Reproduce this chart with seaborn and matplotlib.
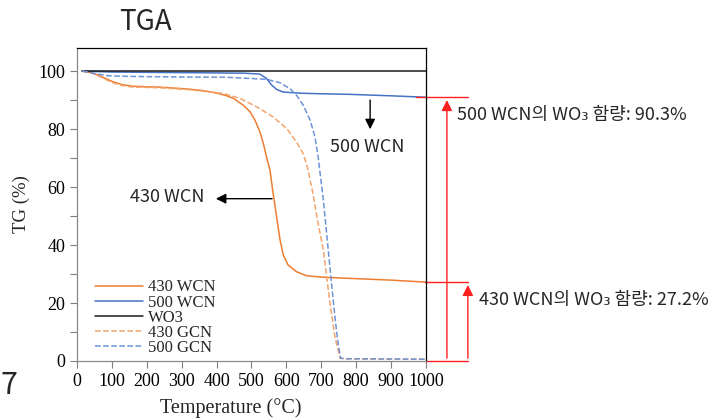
import numpy as np
import pandas as pd
import seaborn as sns
import matplotlib.pyplot as plt

# TGA curves

temp_430wcn = [15, 45, 74, 102, 131, 160, 200, 236, 312, 360, 398, 427, 448, 476, 496,
               510, 524, 534, 543, 553, 562, 572, 582, 591, 605, 629, 658, 706, 782,
               900, 1000]
tg_430wcn = [100, 99.4, 97.9, 96.4, 95.3, 94.8, 94.6, 94.5, 93.9, 93.3, 92.5, 91.6, 90.6,
             88.3, 86.0, 83.1, 79.1, 75.1, 70.4, 65.9, 57.8, 49.8, 41.7, 36.6, 33.1, 30.8,
             29.4, 28.9, 28.5, 27.9, 27.2]

temp_500wcn = [15, 100, 200, 300, 400, 480, 524, 543, 558, 572, 591, 639, 700, 782, 900,
               1000]
tg_500wcn = [100, 99.7, 99.6, 99.5, 99.4, 99.3, 99.0, 97.5, 95.2, 93.7, 92.8, 92.4, 92.2,
             92.0, 91.5, 91.0]

temp_wo3 = [15, 1000]
tg_wo3 = [100, 100]

temp_430gcn = [15, 45, 74, 102, 131, 160, 236, 312, 360, 419, 467, 515, 562, 601, 629,
               648, 660, 675, 690, 706, 715, 725, 739, 754, 770, 1000]
tg_430gcn = [100, 99.3, 97.6, 96.0, 95.0, 94.5, 94.3, 93.7, 93.1, 92.3, 90.6, 87.7, 84.2,
             80.2, 75.6, 71.6, 67.0, 58.5, 48.0, 38.3, 29.5, 19.9, 8.4, 0.9, 0.7, 0.6]

temp_500gcn = [15, 54, 83, 112, 200, 300, 427, 543, 582, 610, 629, 648, 668, 682, 691,
               706, 720, 730, 738, 746, 755, 770, 1000]
tg_500gcn = [100, 99.1, 98.5, 98.3, 98.1, 98.0, 97.9, 97.2, 96.0, 94.0, 91.7, 88.3, 83.1,
             77.3, 70.4, 55.5, 38.3, 26.0, 16.5, 8.0, 1.0, 0.8, 0.6]

labels = ["430 WCN", "500 WCN", "WO3", "430 GCN", "500 GCN"]
temps = [temp_430wcn, temp_500wcn, temp_wo3, temp_430gcn, temp_500gcn]
tgs = [tg_430wcn, tg_500wcn, tg_wo3, tg_430gcn, tg_500gcn]
colors = ["#ED7D31", "#4472C4", "#1a1a1a", "#F4A46C", "#6D93D8"]
styles = ["-", "-", "-", "--", "--"]

ann_430 = "430 WCN의 WO\u2083 함량: 27.2%"
ann_500 = "500 WCN의 WO\u2083 함량: 90.3%"

sns.set_style("ticks")
plt.rcParams["font.family"] = ["Liberation Serif", "DejaVu Serif"]
sans = ["Noto Sans CJK KR", "DejaVu Sans"]

fig = plt.figure(figsize=(7.14, 4.18), dpi=100)
ax = fig.add_axes([0.1078, 0.1364, 0.4888, 0.7488])

for lab, t, g, c, s in zip(labels, temps, tgs, colors, styles):
    sns.lineplot(x=t, y=g, ax=ax, color=c, linestyle=s, linewidth=1.1, label=lab,
                 sort=False)

ax.set_xlim(0, 1000)
ax.set_ylim(0, 108)
ax.set_xticks(np.arange(0, 1001, 100))
ax.set_yticks(np.arange(0, 101, 20))
ax.set_yticks(np.arange(10, 101, 20), minor=True)
ax.tick_params(axis="both", which="both", direction="out", length=5, width=0.8,
               colors="#7f7f7f", labelcolor="black", labelsize=13)
ax.set_xlabel("Temperature (°C)", fontsize=14.5)
ax.xaxis.set_label_coords(0.441, -0.118)
ax.set_ylabel("TG (%)", fontsize=13.5, labelpad=6)

for side in ["left", "bottom"]:
    ax.spines[side].set_color("#8a8a8a")
for side in ["top", "right"]:
    ax.spines[side].set_color("black")
for sp in ax.spines.values():
    sp.set_linewidth(0.9)

leg = ax.legend(loc="lower left", bbox_to_anchor=(0.009, -0.032), frameon=False,
                fontsize=12, labelspacing=-0.05, handlelength=2.9, handletextpad=0.3)

# red content markers outside the plot box
end_500 = tg_500wcn[-1]
end_430 = tg_430wcn[-1]
red = "#ff2020"
ax.plot([970, 1120], [end_500, end_500], color=red, lw=1, clip_on=False)
ax.plot([997, 1120], [end_430, end_430], color=red, lw=1, clip_on=False)
ax.plot([1000, 1120], [0, 0], color=red, lw=1, clip_on=False)
ax.annotate("", xy=(1060, end_500), xytext=(1060, 0), annotation_clip=False,
            arrowprops=dict(arrowstyle="-|>", color=red, lw=1, mutation_scale=16))
ax.annotate("", xy=(1120, end_430), xytext=(1120, 0), annotation_clip=False,
            arrowprops=dict(arrowstyle="-|>", color=red, lw=1, mutation_scale=16))
ax.text(1089, 84.8, ann_500, family=sans, fontsize=13, va="center", ha="left",
        clip_on=False)
ax.text(1152, 21, ann_430, family=sans, fontsize=13, va="center", ha="left",
        clip_on=False)

# black pointers
ax.annotate("", xy=(840, 79), xytext=(840, end_500), annotation_clip=False,
            arrowprops=dict(arrowstyle="-|>", color="black", lw=1, mutation_scale=15))
ax.text(831, 74, "500 WCN", family=sans, fontsize=13, ha="center", va="center")
ax.annotate("", xy=(390, 56), xytext=(567, 56),
            arrowprops=dict(arrowstyle="-|>", color="black", lw=1, mutation_scale=15))
ax.text(258, 56.5, "430 WCN", family=sans, fontsize=13, ha="center", va="center")

fig.text(0.203, 0.947, "TGA", family=sans, fontsize=20, ha="center", va="center")
fig.text(0.0, 0.058, "7", family=sans, fontsize=22, ha="left", va="baseline")

fig.savefig("out.png", dpi=100)
